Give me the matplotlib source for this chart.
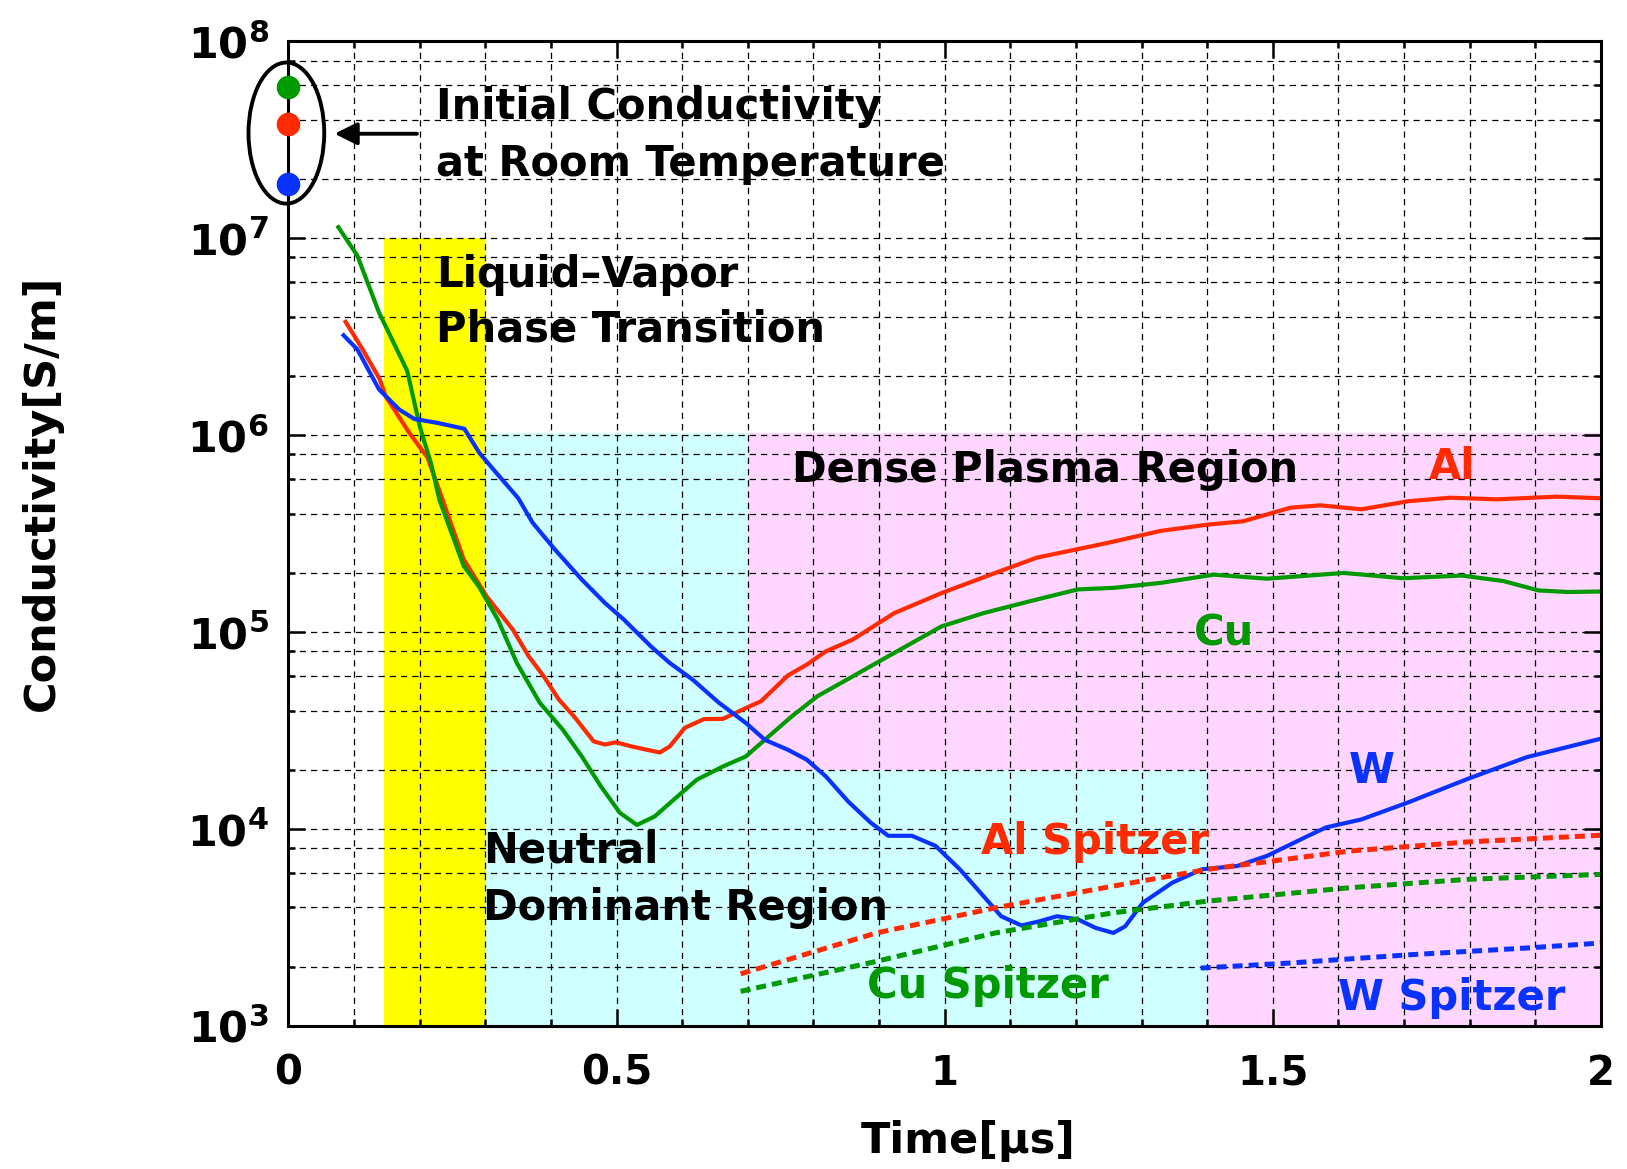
import matplotlib
matplotlib.use("Agg")
import matplotlib.pyplot as plt
from matplotlib.patches import Ellipse
from matplotlib.ticker import MultipleLocator, LogLocator, NullFormatter

plt.rcParams['font.family'] = ['DejaVu Sans']
plt.rcParams['font.weight'] = 'bold'
plt.rcParams['mathtext.default'] = 'bf'

# conductivity vs time, S/m
t_al = [0.087, 0.113, 0.139, 0.148, 0.184, 0.212, 0.232, 0.267, 0.302, 0.342, 0.366,
        0.389, 0.412, 0.435, 0.465, 0.482, 0.499, 0.523, 0.546, 0.566, 0.581, 0.604,
        0.633, 0.662, 0.697, 0.720, 0.761, 0.790, 0.819, 0.860, 0.923, 0.995, 1.077,
        1.140, 1.248, 1.329, 1.401, 1.455, 1.527, 1.572, 1.635, 1.707, 1.770, 1.842,
        1.932, 2.0]
s_al = [3.77e6, 2.73e6, 1.93e6, 1.58e6, 1.03e6, 7.7e5, 5.0e5, 2.34e5, 1.52e5, 1.03e5, 7.55e4,
        5.97e4, 4.55e4, 3.74e4, 2.79e4, 2.69e4, 2.76e4, 2.63e4, 2.53e4, 2.45e4, 2.63e4, 3.27e4,
        3.62e4, 3.63e4, 4.12e4, 4.46e4, 6.03e4, 6.85e4, 8.0e4, 9.18e4, 1.25e5, 1.58e5, 2.0e5,
        2.39e5, 2.84e5, 3.27e5, 3.52e5, 3.66e5, 4.29e5, 4.41e5, 4.21e5, 4.63e5, 4.82e5, 4.73e5,
        4.88e5, 4.79e5]

t_cu = [0.076, 0.105, 0.138, 0.181, 0.200, 0.217, 0.230, 0.267, 0.290, 0.319, 0.348,
        0.383, 0.418, 0.447, 0.476, 0.505, 0.531, 0.558, 0.587, 0.622, 0.662, 0.697,
        0.732, 0.767, 0.806, 0.860, 0.923, 0.995, 1.059, 1.131, 1.203, 1.257, 1.329,
        1.410, 1.491, 1.608, 1.698, 1.788, 1.851, 1.905, 1.950, 2.0]
s_cu = [1.14e7, 8.17e6, 4.20e6, 2.12e6, 1.11e6, 7.23e5, 4.70e5, 2.17e5, 1.71e5, 1.16e5, 6.98e4,
        4.38e4, 3.20e4, 2.34e4, 1.65e4, 1.21e4, 1.05e4, 1.16e4, 1.41e4, 1.78e4, 2.08e4, 2.34e4,
        2.96e4, 3.74e4, 4.73e4, 5.97e4, 7.85e4, 1.07e5, 1.25e5, 1.44e5, 1.65e5, 1.68e5, 1.78e5,
        1.96e5, 1.87e5, 2.0e5, 1.88e5, 1.94e5, 1.82e5, 1.63e5, 1.60e5, 1.61e5]

t_w = [0.084, 0.105, 0.138, 0.169, 0.192, 0.225, 0.268, 0.291, 0.317, 0.350, 0.372,
       0.406, 0.447, 0.482, 0.511, 0.552, 0.581, 0.616, 0.656, 0.697, 0.726, 0.761,
       0.790, 0.819, 0.853, 0.887, 0.914, 0.950, 0.986, 1.023, 1.059, 1.086, 1.117,
       1.144, 1.171, 1.203, 1.230, 1.257, 1.275, 1.302, 1.347, 1.392, 1.446, 1.491,
       1.554, 1.581, 1.635, 1.707, 1.797, 1.887, 2.0]
s_w = [3.22e6, 2.73e6, 1.71e6, 1.35e6, 1.21e6, 1.16e6, 1.08e6, 8.13e5, 6.43e5, 4.80e5, 3.60e5,
       2.63e5, 1.85e5, 1.41e5, 1.16e5, 8.49e4, 6.98e4, 5.74e4, 4.38e4, 3.46e4, 2.84e4, 2.53e4,
       2.25e4, 1.85e4, 1.38e4, 1.08e4, 9.25e3, 9.25e3, 8.22e3, 6.25e3, 4.57e3, 3.61e3, 3.24e3,
       3.40e3, 3.61e3, 3.48e3, 3.15e3, 2.97e3, 3.21e3, 4.23e3, 5.35e3, 6.25e3, 6.50e3, 7.31e3,
       9.25e3, 1.02e4, 1.12e4, 1.37e4, 1.80e4, 2.32e4, 2.88e4]

# Spitzer estimates
t_spitzer = [0.689, 0.896, 1.077, 1.257, 1.401, 1.617, 1.797, 2.0]
s_al_spitzer = [1.84e3, 2.97e3, 3.98e3, 5.14e3, 6.25e3, 7.74e3, 8.61e3, 9.31e3]
s_cu_spitzer = [1.50e3, 2.13e3, 2.97e3, 3.76e3, 4.31e3, 5.04e3, 5.56e3, 5.89e3]
t_w_spitzer = [1.39, 1.527, 1.707, 1.887, 2.0]
s_w_spitzer = [1.97e3, 2.09e3, 2.30e3, 2.49e3, 2.64e3]

# room temperature values (Cu, Al, W)
s_room = [5.9e7, 3.8e7, 1.9e7]

# shaded regions: (t0, t1, s0, s1)
liquid_vapor = [(0.145, 0.30, 1e3, 1e7)]
neutral_region = [(0.30, 0.70, 1e3, 1.03e6), (0.70, 1.40, 1e3, 2e4)]
plasma_region = [(0.70, 2.0, 2e4, 1.03e6), (1.40, 2.0, 1e3, 2e4)]

RED = '#ff2a00'
GREEN = '#009900'
BLUE = '#0a32ff'

fig = plt.figure(figsize=(16.27, 11.69), dpi=100)
ax = fig.add_axes([0.1773, 0.1223, 0.8067, 0.8422])
ax.set_yscale('log')
ax.set_xlim(0, 2)
ax.set_ylim(1e3, 1e8)

for regions, col in [(liquid_vapor, '#ffff00'), (neutral_region, '#d0ffff'),
                     (plasma_region, '#ffd6ff')]:
    for t0, t1, s0, s1 in regions:
        ax.fill_between([t0, t1], s0, s1, color=col, lw=0, zorder=0.5)

ax.plot(t_al, s_al, color=RED, lw=3.0)
ax.plot(t_cu, s_cu, color=GREEN, lw=3.0)
ax.plot(t_w, s_w, color=BLUE, lw=3.0)

dash = (0, (2.0, 1.2))
ax.plot(t_spitzer, s_al_spitzer, color=RED, lw=3.6, linestyle=dash)
ax.plot(t_spitzer, s_cu_spitzer, color=GREEN, lw=3.6, linestyle=dash)
ax.plot(t_w_spitzer, s_w_spitzer, color=BLUE, lw=3.6, linestyle=dash)

for s, col in zip(s_room, [GREEN, RED, BLUE]):
    ax.plot([0], [s], 'o', color=col, ms=16, clip_on=False, zorder=5)

ax.add_patch(Ellipse((-0.0016, 0.907), 0.0577, 0.1433, transform=ax.transAxes,
                     fill=False, ec='black', lw=2.8, clip_on=False, zorder=5))
ax.annotate('', xy=(0.066, 3.4e7), xytext=(0.2, 3.4e7),
            arrowprops=dict(arrowstyle='-|>', color='black', lw=2.8, mutation_scale=34))

# ticks and grid
ax.xaxis.set_major_locator(MultipleLocator(0.5))
ax.xaxis.set_minor_locator(MultipleLocator(0.1))
ax.yaxis.set_major_locator(LogLocator(base=10))
ax.yaxis.set_minor_locator(LogLocator(base=10, subs=(2, 4, 6, 8)))
ax.yaxis.set_minor_formatter(NullFormatter())
ax.set_yticks([10.0 ** k for k in range(3, 9)])
ax.set_yticklabels([r'$10^{%d}$' % k for k in range(3, 9)])
ax.set_xticks([0, 0.5, 1, 1.5, 2])
ax.set_xticklabels(['0', '0.5', '1', '1.5', '2'])
ax.tick_params(which='both', direction='in', top=True, right=True, width=1.8)
ax.tick_params(which='major', length=12)
ax.tick_params(which='minor', length=5)
ax.tick_params(axis='y', which='major', labelsize=31, pad=14)
ax.tick_params(axis='x', which='major', labelsize=29, pad=20)
ax.grid(which='both', color='black', lw=0.9, linestyle=(0, (5, 4)))
for sp in ax.spines.values():
    sp.set_linewidth(2.2)

ax.set_xlabel('Time[μs]', fontsize=31, fontweight='bold')
ax.xaxis.set_label_coords(0.518, -0.095)
ax.set_ylabel('Conductivity[S/m]', fontsize=31, fontweight='bold')
ax.yaxis.set_label_coords(-0.172, 0.542)

fs = 30
ax.text(0.2245, 4.66e7, 'Initial Conductivity', fontsize=fs, va='center')
ax.text(0.2245, 2.39e7, 'at Room Temperature', fontsize=fs, va='center')
ax.text(0.2245, 6.53e6, 'Liquid–Vapor', fontsize=fs, va='center')
ax.text(0.2245, 3.43e6, 'Phase Transition', fontsize=fs, va='center')
ax.text(0.767, 6.67e5, 'Dense Plasma Region', fontsize=fs, va='center')
ax.text(0.297, 7.76e3, 'Neutral', fontsize=fs, va='center')
ax.text(0.297, 3.98e3, 'Dominant Region', fontsize=fs, va='center')
ax.text(1.738, 6.9e5, 'Al', fontsize=fs, va='center', color=RED)
ax.text(1.379, 9.9e4, 'Cu', fontsize=fs, va='center', color=GREEN)
ax.text(1.616, 1.98e4, 'W', fontsize=fs, va='center', color=BLUE)
ax.text(1.055, 8.57e3, 'Al Spitzer', fontsize=fs, va='center', color=RED)
ax.text(0.882, 1.6e3, 'Cu Spitzer', fontsize=fs, va='center', color=GREEN)
ax.text(1.600, 1.39e3, 'W Spitzer', fontsize=fs, va='center', color=BLUE)

fig.savefig('out.png', dpi=100)
